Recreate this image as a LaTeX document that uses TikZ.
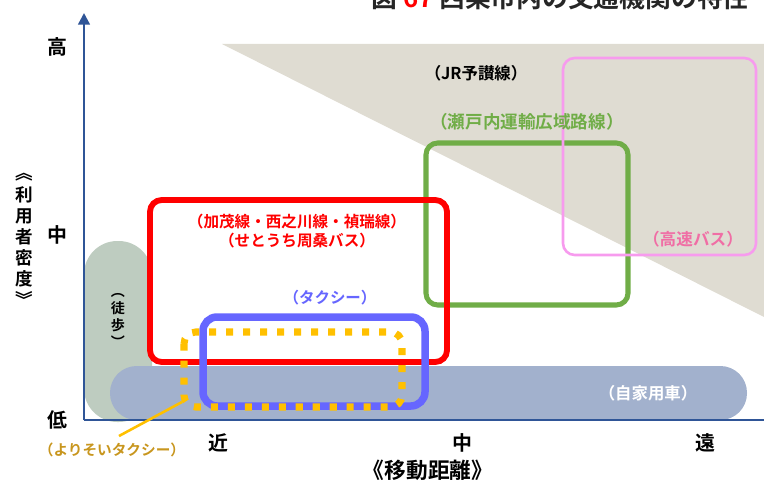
\documentclass[tikz,border=0pt]{standalone}
\usepackage{fontspec}
\setmainfont{Noto Sans CJK JP}[BoldFont={Noto Sans CJK JP Bold}]
\usetikzlibrary{arrows.meta}

\definecolor{axisblue}{RGB}{47,85,151}
\definecolor{jrgray}{RGB}{223,220,210}
\definecolor{walkgreen}{RGB}{190,204,192}
\definecolor{carblue}{RGB}{162,177,205}
\definecolor{busred}{RGB}{255,0,0}
\definecolor{setogreen}{RGB}{112,173,71}
\definecolor{hwpink}{RGB}{247,155,238}
\definecolor{hwtext}{RGB}{240,110,165}
\definecolor{taxiblue}{RGB}{102,102,255}
\definecolor{yoriyellow}{RGB}{255,192,0}
\definecolor{yoritext}{RGB}{200,150,30}

\newcommand{\fsz}[1]{\bfseries\fontsize{#1}{#1}\selectfont}

\begin{document}
\begin{tikzpicture}[x=0.03cm,y=-0.03cm,
    every node/.style={font=\fsz{13.2}},
    axis/.style={axisblue, line width=2.1pt},
    tick/.style={font=\fsz{17}}]
    \useasboundingbox (0,0) rectangle (764,482);
    \clip (0,0) rectangle (764,482);

    \node[anchor=base, text=black!85, font=\fsz{22}] (title) at (560,8)
        {図 \textcolor{red}{67} 西条市内の交通機関の特性};

    % background areas
    \fill[jrgray] (222,44) -- (764,44) -- (764,317) -- cycle;
    \fill[walkgreen, rounded corners=1.0cm] (84,241) rectangle (152,422);
    \fill[carblue, rounded corners=0.8cm] (110,366) rectangle (747,420);

    % axes
    \draw[axis, -{Triangle[length=10pt,width=10pt]}] (84,420) -- (84,13);
    \draw[axis] (84,420) -- (764,420);

    % service areas
    \draw[setogreen, line width=4.3pt, rounded corners=10pt] (426,143) rectangle (628,305);
    \draw[hwpink, line width=2.2pt, rounded corners=10pt] (563,58) rectangle (756,255);
    \draw[busred, line width=5pt, rounded corners=10pt] (150,200) rectangle (447,362);
    \draw[taxiblue, line width=6.4pt, rounded corners=12pt] (203,317) rectangle (425,406);
    \draw[yoriyellow, line width=6pt, dash pattern=on 6pt off 8.5pt, rounded corners=10pt]
        (184,332) rectangle (402,407);

    % labels
    \node[font=\fsz{14}] (jr) at (476,73) {（JR予讃線）};
    \node[text=setogreen, font=\fsz{15}] (seto) at (527,122) {（瀬戸内運輸広域路線）};
    \node[text=hwtext, font=\fsz{14.2}] (kosoku) at (693,239) {（高速バス）};
    \node[text=busred, align=center, font=\bfseries\fontsize{13.3}{16}\selectfont] (shuso) at (297,231)
        {（加茂線・西之川線・禎瑞線）\\（せとうち周桑バス）};
    \node[text=taxiblue] (taxi) at (330,298) {（タクシー）};
    \node[text=white, font=\fsz{14}] (car) at (648,393) {（自家用車）};
    \node[align=center, font=\bfseries\fontsize{12}{14.5}\selectfont] (walk) at (118,320) {︵\\徒\\歩\\︶};
    \node[text=yoritext, font=\fsz{12.5}] (yorisoi) at (112,450) {（よりそいタクシー）};

    \coordinate (yori-box) at (182,402);
    \coordinate (yori-tail) at (119,436);
    \draw[yoriyellow, line width=2.2pt] (yori-box) -- (yori-tail);

    % axis labels
    \foreach \y/\lbl in {47/高,235/中,420/低}
        \node[tick] (ytick-\y) at (57,\y) {\lbl};
    \foreach \x/\lbl in {218/近,462/中,705/遠}
        \node[tick] (xtick-\x) at (\x,443) {\lbl};
    \node[font=\fsz{18.5}] (xname) at (428,470) {《移動距離》};
    \node[align=center, font=\bfseries\fontsize{15}{18}\selectfont] (yname) at (24,240) {︽\\利\\用\\者\\密\\度\\︾};
\end{tikzpicture}
\end{document}
